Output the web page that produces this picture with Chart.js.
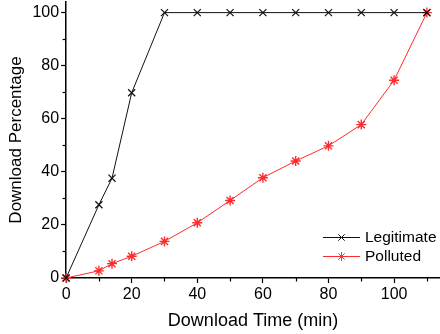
<!DOCTYPE html>
<html><head><meta charset="utf-8">
<script src="https://cdn.jsdelivr.net/npm/chart.js@4/dist/chart.umd.min.js"></script>
<style>html,body{margin:0;padding:0;background:#fff}#wrap{width:440px;height:334px}</style>
</head><body><div id="wrap"><canvas id="c"></canvas></div>
<script>
const legitX = [0, 10, 14, 20, 30, 40, 50, 60, 70, 80, 90, 100, 110];
const legitY = [0, 27.6, 37.6, 69.8, 100, 100, 100, 100, 100, 100, 100, 100, 100];
const pollX = [0, 10, 14, 20, 30, 40, 50, 60, 70, 80, 90, 100, 110];
const pollY = [0, 2.7, 5.4, 8.2, 13.8, 20.8, 29.2, 37.8, 44.1, 49.8, 57.8, 74.5, 100];
const seriesNames = ['Legitimate', 'Polluted'];
const xTitle = 'Download Time (min)';
const yTitle = 'Download Percentage';

const FONT = 'Liberation Sans, Arial, sans-serif';
const BLACK = '#111111';
const RED = '#ff2b2b';

const minorTicks = {
  id: 'minorTicks',
  afterDraw(chart) {
    const ctx = chart.ctx;
    const xs = chart.scales.x, ys = chart.scales.y;
    ctx.save();
    ctx.strokeStyle = '#000';
    ctx.lineWidth = 1.2;
    for (let v = 10; v <= 110; v += 20) {
      const px = Math.round(xs.getPixelForValue(v)) + 0.5;
      ctx.beginPath(); ctx.moveTo(px, xs.top); ctx.lineTo(px, xs.top + 3.5); ctx.stroke();
    }
    for (let v = 10; v <= 90; v += 20) {
      const py = Math.round(ys.getPixelForValue(v)) + 0.5;
      ctx.beginPath(); ctx.moveTo(ys.right, py); ctx.lineTo(ys.right - 3.5, py); ctx.stroke();
    }
    ctx.restore();
  }
};

const lineLegend = {
  id: 'lineLegend',
  afterDraw(chart) {
    const ctx = chart.ctx;
    ctx.save();
    ctx.font = '15.5px ' + FONT;
    ctx.textBaseline = 'middle';
    chart.data.datasets.forEach((ds, i) => {
      const y = 237 + i * 19;
      const x0 = 323, x1 = 360;
      ctx.strokeStyle = ds.borderColor;
      ctx.lineWidth = 1;
      ctx.beginPath(); ctx.moveTo(x0, y + 0.5); ctx.lineTo(x1, y + 0.5); ctx.stroke();
      Chart.helpers.drawPoint(ctx, {pointStyle: ds.pointStyle, radius: 4.5, borderWidth: 1.2}, (x0 + x1) / 2, y + 0.5);
      ctx.fillStyle = '#000';
      ctx.fillText(ds.label, 365, y + 1);
    });
    ctx.restore();
  }
};

new Chart(document.getElementById('c'), {
  type: 'line',
  data: {
    datasets: [
      {
        label: seriesNames[0],
        data: legitX.map((x, i) => ({x, y: legitY[i]})),
        borderColor: BLACK, backgroundColor: BLACK,
        borderWidth: 1, pointStyle: 'crossRot', pointRadius: 5, pointBorderWidth: 1.2,
        pointBorderColor: BLACK, tension: 0, clip: false
      },
      {
        label: seriesNames[1],
        data: pollX.map((x, i) => ({x, y: pollY[i]})),
        borderColor: RED, backgroundColor: RED,
        borderWidth: 1, pointStyle: 'star', pointRadius: 5, pointBorderWidth: 1.4,
        pointBorderColor: RED, tension: 0, clip: false
      }
    ]
  },
  options: {
    responsive: true, maintainAspectRatio: false, animation: false,
    layout: {autoPadding: false, padding: {top: 2, right: 0, left: 6, bottom: 4}},
    plugins: {legend: {display: false}, tooltip: {enabled: false}},
    scales: {
      x: {
        type: 'linear', min: 0, max: 114,
        afterFit: s => { s.paddingRight = 0; },
        border: {display: true, color: '#000', width: 1.5},
        grid: {drawOnChartArea: false, drawTicks: true, tickLength: 5, tickWidth: 1.2, tickColor: c => (c.tick && c.tick.value % 20 === 0) ? '#000' : 'rgba(0,0,0,0)'},
        ticks: {stepSize: 10, includeBounds: false, autoSkip: false, maxRotation: 0, color: '#000', padding: 4,
          font: {family: FONT, size: 16, lineHeight: 1}, callback: v => v % 20 === 0 ? String(v) : ''},
        title: {display: true, text: xTitle, color: '#000', font: {family: FONT, size: 18, lineHeight: 1}, padding: {top: 5, bottom: 0}}
      },
      y: {
        type: 'linear', min: 0, max: 104,
        afterFit: s => { s.paddingTop = 0; },
        border: {display: true, color: '#000', width: 1.5},
        grid: {drawOnChartArea: false, drawTicks: true, tickLength: 5, tickWidth: 1.2, tickColor: c => (c.tick && c.tick.value % 20 === 0) ? '#000' : 'rgba(0,0,0,0)'},
        ticks: {stepSize: 10, includeBounds: false, autoSkip: false, color: '#000', padding: 2,
          font: {family: FONT, size: 16}, callback: v => v % 20 === 0 ? String(v) : ''},
        title: {display: true, text: yTitle, color: '#000', font: {family: FONT, size: 17}, padding: {top: 0, bottom: 4}}
      }
    }
  },
  plugins: [minorTicks, lineLegend]
});
</script></body></html>
